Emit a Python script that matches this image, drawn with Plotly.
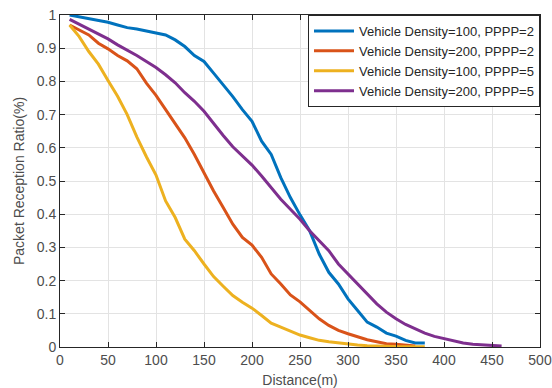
import plotly.graph_objects as go

dist_blue = list(range(10, 390, 10))
blue = [1.0, 0.995, 0.99, 0.984, 0.978, 0.97, 0.962, 0.958, 0.952, 0.948, 0.94, 0.925, 0.905,
        0.878, 0.86, 0.825, 0.79, 0.754, 0.715, 0.68, 0.62, 0.58, 0.51, 0.45, 0.398, 0.35,
        0.28, 0.225, 0.19, 0.145, 0.11, 0.075, 0.06, 0.042, 0.033, 0.02, 0.012, 0.012]

dist_orange = list(range(10, 380, 10))
orange = [0.97, 0.955, 0.94, 0.915, 0.898, 0.878, 0.862, 0.838, 0.795, 0.758, 0.716, 0.67,
          0.63, 0.58, 0.525, 0.47, 0.42, 0.37, 0.33, 0.307, 0.27, 0.22, 0.19, 0.157, 0.136,
          0.11, 0.085, 0.065, 0.05, 0.04, 0.03, 0.022, 0.016, 0.01, 0.008, 0.005, 0.003]

dist_yellow = list(range(10, 390, 10))
yellow = [0.97, 0.935, 0.89, 0.852, 0.803, 0.755, 0.70, 0.633, 0.573, 0.518, 0.44, 0.39,
          0.325, 0.29, 0.25, 0.212, 0.183, 0.155, 0.135, 0.117, 0.095, 0.072, 0.06, 0.048,
          0.036, 0.028, 0.02, 0.016, 0.012, 0.01, 0.006, 0.004, 0.002, 0.002, 0.001, 0.001,
          0.001, 0.001]

dist_purple = list(range(10, 470, 10))
purple = [0.987, 0.972, 0.957, 0.942, 0.928, 0.91, 0.895, 0.878, 0.86, 0.842, 0.82, 0.796,
          0.766, 0.74, 0.71, 0.672, 0.637, 0.603, 0.575, 0.548, 0.515, 0.48, 0.445, 0.415,
          0.385, 0.35, 0.32, 0.29, 0.25, 0.22, 0.19, 0.16, 0.13, 0.105, 0.085, 0.068, 0.055,
          0.042, 0.032, 0.025, 0.018, 0.012, 0.008, 0.006, 0.004, 0.003]

names = ["Vehicle Density=100, PPPP=2", "Vehicle Density=200, PPPP=2",
         "Vehicle Density=100, PPPP=5", "Vehicle Density=200, PPPP=5"]
colors = ["#0072BD", "#D95319", "#EDB120", "#7E2F8E"]

x_ticks = list(range(0, 501, 50))
y_ticks = [i / 10 for i in range(11)]
y_ticktext = ["0", "0.1", "0.2", "0.3", "0.4", "0.5", "0.6", "0.7", "0.8", "0.9", "1"]

FONT = "Liberation Sans, Arial"

fig = go.Figure()
for xs, ys, nm, c in zip([dist_blue, dist_orange, dist_yellow, dist_purple],
                         [blue, orange, yellow, purple], names, colors):
    fig.add_trace(go.Scatter(x=xs, y=ys, mode="lines", name=nm,
                             line=dict(color=c, width=3)))

axis_common = dict(showline=True, linecolor="#262626", linewidth=1, mirror="ticks",
                   ticks="inside", ticklen=5, tickcolor="#262626",
                   showgrid=True, gridcolor="#e3e3e3", gridwidth=1, zeroline=False,
                   automargin=False,
                   tickfont=dict(family=FONT, size=14, color="#4d4d4d"))

fig.update_xaxes(range=[0, 500], tickvals=x_ticks,
                 title=dict(text="Distance(m)", standoff=8,
                            font=dict(family=FONT, size=14, color="#4d4d4d")),
                 **axis_common)
fig.update_yaxes(range=[0, 1], tickvals=y_ticks, ticktext=y_ticktext,
                 title=dict(text="Packet Reception Ratio(%)", standoff=8,
                            font=dict(family=FONT, size=14, color="#4d4d4d")),
                 **axis_common)

fig.update_layout(
    width=552, height=388,
    margin=dict(l=60, r=12, t=15, b=41),
    paper_bgcolor="white", plot_bgcolor="white",
    showlegend=True,
    legend=dict(x=1, y=1, xanchor="right", yanchor="top",
                bgcolor="white", bordercolor="#262626", borderwidth=1,
                font=dict(family=FONT, size=13, color="#262626"),
                tracegroupgap=0, itemwidth=40),
)

fig.write_html("out.html", config={"displayModeBar": False},
               post_script="document.body.style.margin='0';document.body.style.padding='0';")
